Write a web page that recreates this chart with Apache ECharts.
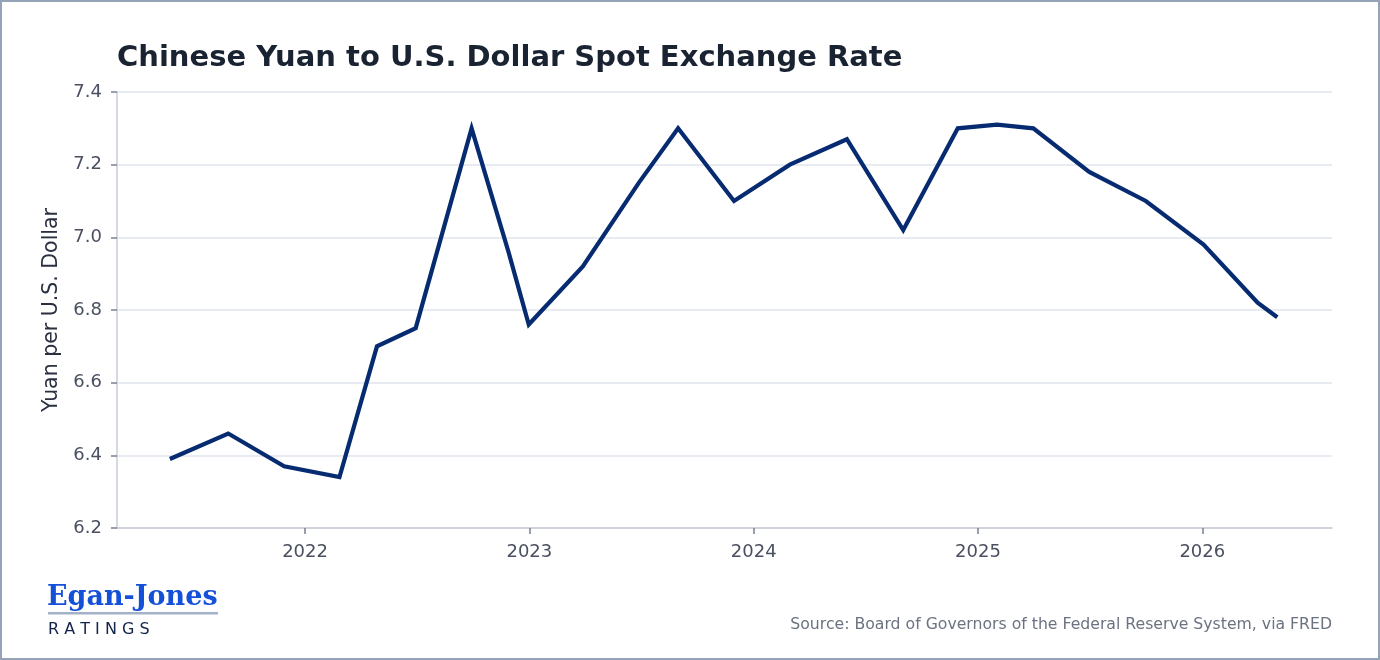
<!DOCTYPE html>
<html>
<head>
<meta charset="utf-8">
<script src="https://cdn.jsdelivr.net/npm/echarts@6/dist/echarts.min.js"></script>
<style>
html,body{margin:0;padding:0;background:#fff;}
#chart{width:1380px;height:660px;}
</style>
</head>
<body>
<div id="chart"></div>
<script>
// ---- data ----
const dates = [
  '2021-05-26','2021-08-29','2021-11-28','2022-02-26','2022-04-28','2022-06-30',
  '2022-09-29','2022-11-28','2022-12-31','2023-03-29','2023-06-28','2023-08-31',
  '2023-11-30','2024-02-29','2024-06-01','2024-09-01','2024-11-29','2025-02-01',
  '2025-04-01','2025-07-01','2025-10-01','2026-01-03','2026-04-01','2026-05-03'
];
const rates = [
  6.39, 6.46, 6.37, 6.34, 6.70, 6.75,
  7.30, 6.96, 6.76, 6.92, 7.15, 7.30,
  7.10, 7.20, 7.27, 7.02, 7.30, 7.31,
  7.30, 7.18, 7.10, 6.98, 6.82, 6.78
];
const yearTicks = [2022, 2023, 2024, 2025, 2026];
const xMin = '2021-03-01';
const xMax = '2026-07-31';
const yTicks = [6.2, 6.4, 6.6, 6.8, 7.0, 7.2, 7.4];

const titleText = 'Chinese Yuan to U.S. Dollar Spot Exchange Rate';
const yName = 'Yuan per U.S. Dollar';
const sourceText = 'Source: Board of Governors of the Federal Reserve System, via FRED';

// date string -> fractional year
const toYear = s => {
  const p = s.split('-').map(Number);
  const t = Date.UTC(p[0], p[1]-1, p[2]);
  const a = Date.UTC(p[0], 0, 1), b = Date.UTC(p[0] + 1, 0, 1);
  return p[0] + (t - a) / (b - a);
};
const seriesData = dates.map((d, i) => [toYear(d), rates[i]]);

const chart = echarts.init(document.getElementById('chart'));
const FONT = 'DejaVu Sans';
chart.setOption({
  backgroundColor: '#ffffff',
  animation: false,
  textStyle: { fontFamily: FONT },
  title: {
    text: titleText,
    left: 112, top: 39,
    textStyle: { fontFamily: FONT, fontSize: 29, fontWeight: 'bold', color: '#1a2332' }
  },
  grid: { left: 117, right: 48, top: 92, bottom: 132, containLabel: false },
  xAxis: {
    type: 'value',
    min: toYear(xMin), max: toYear(xMax),
    axisLine: { show: true, lineStyle: { color: '#c8ccd8', width: 1.5 } },
    axisTick: { show: true, length: 6, lineStyle: { color: '#7a8090', width: 1.5 },
      customValues: yearTicks },
    axisLabel: { customValues: yearTicks, fontSize: 18, color: '#4a5060', margin: 15,
      formatter: v => String(Math.round(v)) },
    splitLine: { show: false }
  },
  yAxis: {
    type: 'value',
    min: yTicks[0], max: yTicks[yTicks.length-1], interval: 0.2,
    name: yName, nameLocation: 'middle', nameGap: 54, nameRotate: 90,
    nameTextStyle: { fontSize: 20.5, color: '#2a3040', fontFamily: FONT },
    axisLine: { show: true, lineStyle: { color: '#c8ccd8', width: 1.5 } },
    axisTick: { show: true, length: 6, lineStyle: { color: '#7a8090', width: 1.5 } },
    axisLabel: { fontSize: 18, color: '#4a5060', margin: 15, formatter: v => v.toFixed(1) },
    splitLine: { show: true, lineStyle: { color: '#e2e4ee', width: 1.5 } }
  },
  series: [{
    type: 'line',
    data: seriesData,
    showSymbol: false,
    lineStyle: { color: '#062b70', width: 4.2, join: 'miter' },
    itemStyle: { color: '#062b70' }
  }],
  graphic: [
    { type: 'rect', shape: { x: 1, y: 1, width: 1378, height: 658 },
      style: { fill: 'none', stroke: '#94a3b8', lineWidth: 2 }, silent: true },
    { type: 'rect', shape: { x: 48, y: 612, width: 170, height: 2.5 },
      style: { fill: '#a3b2c8' } },
    { type: 'text', left: 47, top: 584,
      style: { text: 'Egan-Jones', font: 'bold 27px "DejaVu Serif"', fill: '#1450d8' } },
    { type: 'text', left: 48, top: 622,
      style: { text: 'R A T I N G S', font: '16px "DejaVu Sans"', fill: '#13244a' } },
    { type: 'text', right: 48, top: 617,
      style: { text: sourceText, font: '15.7px "DejaVu Sans"', fill: '#6b7280', textAlign: 'right' } }
  ]
});
</script>
</body>
</html>
